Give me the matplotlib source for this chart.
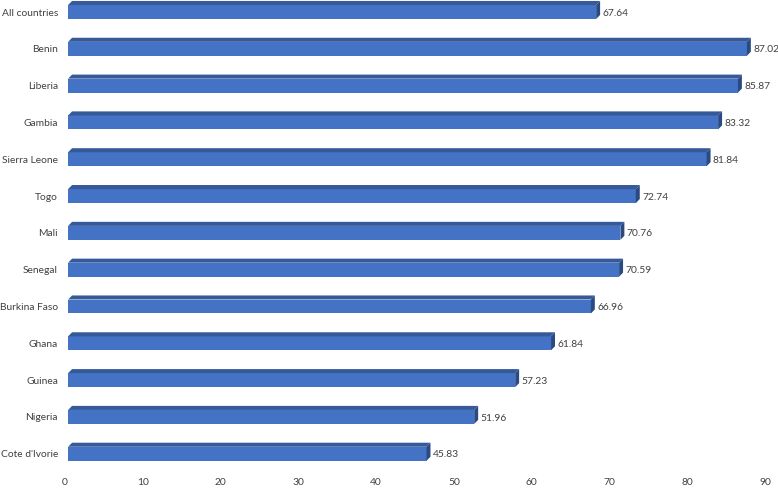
import matplotlib
matplotlib.use("Agg")
import matplotlib.pyplot as plt
from matplotlib.patches import Polygon

paises = ["All countries", "Benin", "Liberia", "Gambia", "Sierra Leone", "Togo", "Mali",
          "Senegal", "Burkina Faso", "Ghana", "Guinea", "Nigeria", "Cote d'Ivorie"]
valores = [67.64, 87.02, 85.87, 83.32, 81.84, 72.74, 70.76,
           70.59, 66.96, 61.84, 57.23, 51.96, 45.83]
ticks_x = [0, 10, 20, 30, 40, 50, 60, 70, 80, 90]

plt.rcParams["font.family"] = ["Lato", "DejaVu Sans"]

fig = plt.figure(figsize=(7.78, 4.92), dpi=100)
ax = fig.add_axes([65 / 778, 1 - 474 / 492, 700 / 778, 474 / 492])

cor_frente = "#4472C4"
cor_topo = "#36599A"
cor_lado = "#2C4A82"

altura = 0.38    # altura da face frontal
dx = 0.51        # profundidade para a direita
dy = 0.11        # profundidade para cima
inicio = 0.4

for i, v in enumerate(valores):
    x0 = inicio
    x1 = v + 0.65
    yt = i - altura / 2
    yb = i + altura / 2
    frente = Polygon([(x0, yb), (x1, yb), (x1, yt), (x0, yt)], closed=True,
                     facecolor=cor_frente, edgecolor="none")
    topo = Polygon([(x0, yt), (x1, yt), (x1 + dx, yt - dy), (x0 + dx, yt - dy)], closed=True,
                   facecolor=cor_topo, edgecolor="none")
    lado = Polygon([(x1, yb), (x1 + dx, yb - dy), (x1 + dx, yt - dy), (x1, yt)], closed=True,
                   facecolor=cor_lado, edgecolor="none")
    for p in (frente, topo, lado):
        ax.add_patch(p)
    ax.text(x1 + dx + 0.28, i + 0.03, f"{v:.2f}", va="center", ha="left",
            fontsize=7.4, color="#404040")

ax.set_xlim(0, 90)
ax.set_ylim(12.55, -0.326)
ax.set_yticks(range(len(paises)))
ax.set_yticklabels(paises)
ax.set_xticks(ticks_x)
ax.tick_params(axis="both", length=0, labelsize=7.4, labelcolor="#404040")
ax.tick_params(axis="y", pad=5)
ax.tick_params(axis="x", pad=3)
for s in ax.spines.values():
    s.set_visible(False)

fig.savefig("out.png", dpi=100)
